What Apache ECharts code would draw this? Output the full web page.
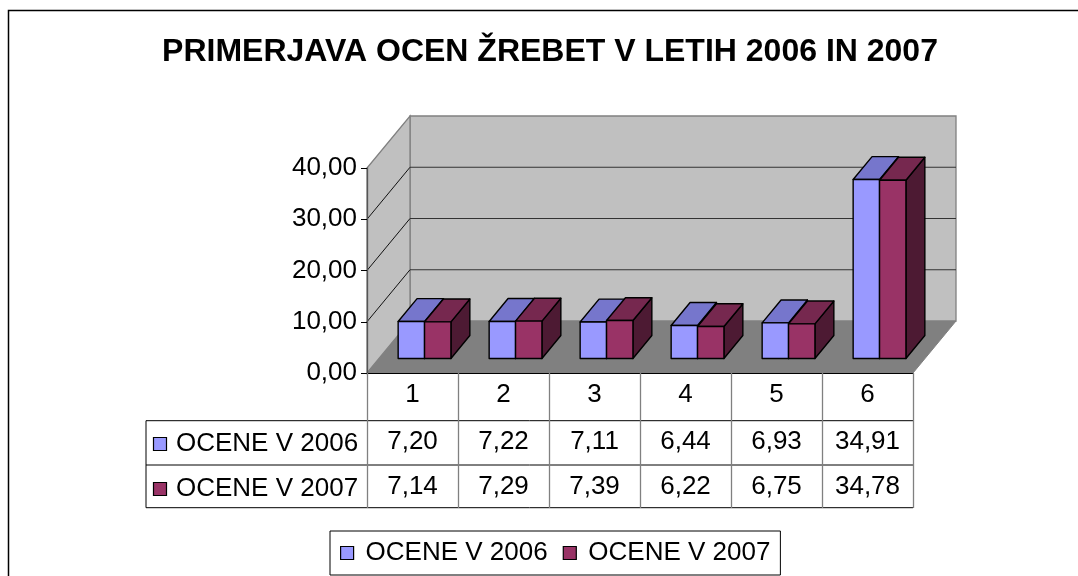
<!DOCTYPE html>
<html><head><meta charset="utf-8">
<script src="https://cdn.jsdelivr.net/npm/echarts@6/dist/echarts.min.js"></script>
<style>html,body{margin:0;padding:0;background:#fff}#c{width:1078px;height:576px}</style>
</head><body><div id="c"></div>
<script>
const titleText = 'PRIMERJAVA OCEN ŽREBET V LETIH 2006 IN 2007';
const categories = ['1', '2', '3', '4', '5', '6'];
const seriesNames = ['OCENE V 2006', 'OCENE V 2007'];
const values2006 = [7.20, 7.22, 7.11, 6.44, 6.93, 34.91];
const values2007 = [7.14, 7.29, 7.39, 6.22, 6.75, 34.78];
const yTicks = [0, 10, 20, 30, 40];

const FONT_FAMILY = '"Liberation Sans", Arial, sans-serif';
const FS = 26;
const frontColors = ['#9999FF', '#993366'];
const topColors = ['#7676CC', '#76284F'];
const sideColors = ['#5C5C99', '#4D1A33'];
const DX = 43, DY = 52;          // full depth offset of the 3D box
const F0 = 0.28, F1 = 0.72;      // bar depth range (fraction of full depth)
const BAR_FRAC = 0.29;           // bar width as fraction of category band
const TABLE_LEFT = 221;          // table extends this far left of the plot
const ROW_LINES = [47.7, 92, 134.7];
const ROW_TEXT = [69, 114];
const ROW_LABEL = [71, 116];
const fmt = v => v.toFixed(2).replace('.', ',');
const font = (s, b) => (b ? 'bold ' : '') + s + 'px ' + FONT_FAMILY;

function renderWalls(params, api) {
  const cs = params.coordSys;
  const L = cs.x, R = cs.x + cs.width, B = cs.y + cs.height;
  const yTop = api.coord([0, yTicks[yTicks.length - 1]])[1];
  const ch = [];
  ch.push({type: 'polygon', shape: {points: [[L, B], [R, B], [R + DX, B - DY], [L + DX, B - DY]]},
    style: {fill: '#808080', stroke: '#808080', lineWidth: 1}});
  ch.push({type: 'rect', shape: {x: L + DX, y: yTop - DY, width: R - L, height: B - yTop},
    style: {fill: '#C0C0C0', stroke: '#808080', lineWidth: 1.3}});
  ch.push({type: 'polygon', shape: {points: [[L, B], [L, yTop], [L + DX, yTop - DY], [L + DX, B - DY]]},
    style: {fill: '#C0C0C0', stroke: '#808080', lineWidth: 1.3}});
  yTicks.slice(1, -1).forEach(t => {
    const y = api.coord([0, t])[1];
    ch.push({type: 'line', shape: {x1: L, y1: y, x2: L + DX, y2: y - DY}, style: {stroke: '#111', lineWidth: 1}});
    ch.push({type: 'line', shape: {x1: L + DX, y1: y - DY, x2: R + DX, y2: y - DY}, style: {stroke: '#333', lineWidth: 1}});
  });
  // data table frame
  ROW_LINES.forEach(o => {
    ch.push({type: 'line', shape: {x1: L - TABLE_LEFT, y1: B + o, x2: R, y2: B + o}, style: {stroke: '#000', lineWidth: 1}});
  });
  ch.push({type: 'line', shape: {x1: L - TABLE_LEFT, y1: B + ROW_LINES[0], x2: L - TABLE_LEFT, y2: B + ROW_LINES[2]},
    style: {stroke: '#000', lineWidth: 1}});
  return {type: 'group', children: ch};
}

function makeBarRender(s) {
  return function (params, api) {
    const i = api.value(0), v = api.value(1);
    const base = api.coord([i, 0]);
    const top = api.coord([i, v]);
    const bw = api.size([1, 0])[0];
    const w = bw * BAR_FRAC;
    const x0 = base[0] - w + s * w + DX * F0;
    const yb = base[1] - DY * F0;
    const yt = top[1] - DY * F0;
    const dx = DX * (F1 - F0), dy = DY * (F1 - F0);
    const stroke = {stroke: '#000', lineWidth: 1.4, lineJoin: 'round'};
    const ch = [
      {type: 'polygon', shape: {points: [[x0 + w, yt], [x0 + w + dx, yt - dy], [x0 + w + dx, yb - dy], [x0 + w, yb]]},
        style: Object.assign({fill: sideColors[s]}, stroke)},
      {type: 'polygon', shape: {points: [[x0, yt], [x0 + w, yt], [x0 + w + dx, yt - dy], [x0 + dx, yt - dy]]},
        style: Object.assign({fill: topColors[s]}, stroke)},
      {type: 'rect', shape: {x: x0, y: yt, width: w, height: yb - yt},
        style: Object.assign({fill: frontColors[s]}, stroke)},
      {type: 'text', style: {text: fmt(v), x: base[0], y: base[1] + ROW_TEXT[s], align: 'center',
        verticalAlign: 'middle', font: font(FS), fill: '#000'}}
    ];
    if (params.dataIndex === 0) {
      const cs = params.coordSys;
      const lx = cs.x - TABLE_LEFT;
      const cy = cs.y + cs.height + ROW_LABEL[s];
      ch.push({type: 'rect', shape: {x: lx + 7.5, y: cy - 6.5, width: 13, height: 13},
        style: {fill: frontColors[s], stroke: '#000', lineWidth: 1.2}});
      ch.push({type: 'text', style: {text: seriesNames[s], x: lx + 30, y: cy, align: 'left',
        verticalAlign: 'middle', font: font(FS), fill: '#000'}});
    }
    return {type: 'group', children: ch};
  };
}

const chart = echarts.init(document.getElementById('c'), null, {renderer: 'canvas'});
chart.setOption({
  animation: false,
  backgroundColor: '#fff',
  title: {
    text: titleText, left: 550, top: 52, padding: 0, textAlign: 'center', textVerticalAlign: 'middle',
    textStyle: {fontSize: 32, fontWeight: 'bold', fontFamily: FONT_FAMILY, color: '#000'}
  },
  graphic: [{type: 'rect', z: -10, shape: {x: 8.5, y: 10.5, width: 1200, height: 700},
    style: {fill: 'transparent', stroke: '#000', lineWidth: 1.5}}],
  legend: {
    data: seriesNames, left: 330, top: 531, orient: 'horizontal',
    padding: [9, 10, 9, 10], itemGap: 15, itemWidth: 13, itemHeight: 13, icon: 'rect',
    borderColor: '#000', borderWidth: 1, selectedMode: false,
    itemStyle: {borderColor: '#000', borderWidth: 1.2},
    textStyle: {fontSize: FS, color: '#000', fontFamily: FONT_FAMILY, padding: [0, 0, 0, 7]}
  },
  grid: {left: 367, right: 165, top: 168, bottom: 203, containLabel: false},
  xAxis: {
    type: 'category', data: categories, z: 3,
    axisLine: {show: true, lineStyle: {color: '#000', width: 1}},
    axisTick: {show: true, interval: 0, length: 135, lineStyle: {color: '#808080', width: 1.3}},
    axisLabel: {margin: 9, fontSize: FS, color: '#000', fontFamily: FONT_FAMILY},
    splitLine: {show: false}
  },
  yAxis: {
    type: 'value', min: 0, max: 40, interval: 10, z: 3,
    axisLine: {show: true, lineStyle: {color: '#555', width: 1.3}},
    axisTick: {show: true, length: 6, lineStyle: {color: '#000'}},
    axisLabel: {margin: 10, fontSize: FS, color: '#000', fontFamily: FONT_FAMILY, formatter: v => fmt(v)},
    splitLine: {show: false}
  },
  series: [
    {type: 'custom', name: 'walls', z: 1, silent: true, renderItem: renderWalls, data: [[0, 0]], encode: {x: 0, y: 1}},
    {type: 'custom', name: seriesNames[0], z: 4, itemStyle: {color: frontColors[0]},
      renderItem: makeBarRender(0), encode: {x: 0, y: 1},
      data: values2006.map((v, i) => [i, v])},
    {type: 'custom', name: seriesNames[1], z: 5, itemStyle: {color: frontColors[1]},
      renderItem: makeBarRender(1), encode: {x: 0, y: 1},
      data: values2007.map((v, i) => [i, v])}
  ]
});
</script></body></html>
